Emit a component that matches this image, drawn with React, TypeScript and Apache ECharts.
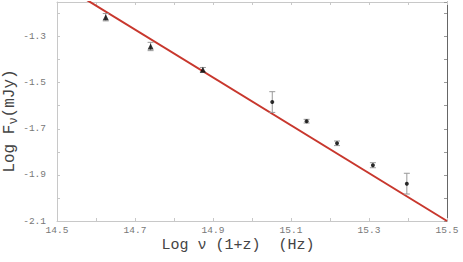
import React, { useEffect, useRef } from "react";
import * as echarts from "echarts";

const freqs = [14.625, 14.74, 14.874, 15.052, 15.14, 15.218, 15.31, 15.397];
const flux = [-1.216, -1.343, -1.444, -1.584, -1.667, -1.763, -1.858, -1.938];
const errs = [0.016, 0.018, 0.01, 0.045, 0.008, 0.01, 0.011, 0.045];
const triangleCount = 3;
const fitLine = [
  [14.5, -1.062],
  [15.5, -2.1],
];
const xTitle = "Log ν (1+z)  (Hz)";

const isOddTenth = (v: number) => {
  const t = v * 10;
  const r = Math.round(t);
  return Math.abs(t - r) < 1e-6 && Math.abs(r) % 2 === 1;
};

export default function App() {
  const ref = useRef<HTMLDivElement>(null);
  useEffect(() => {
    if (!ref.current) return;
    const chart = echarts.init(ref.current, null, { renderer: "svg" });
    const tri = freqs.slice(0, triangleCount).map((f, i) => [f, flux[i]]);
    const dots = freqs.slice(triangleCount).map((f, i) => [f, flux[i + triangleCount]]);
    const errData = freqs.map((f, i) => [f, flux[i] - errs[i], flux[i] + errs[i]]);
    const mono = "Liberation Mono";
    const axisGray = "#c8c8c8";
    chart.setOption({
      animation: false,
      grid: { left: 57, right: 16, top: 2, bottom: 41 },
      xAxis: [
        {
          type: "value",
          position: "bottom",
          min: 14.5,
          max: 15.5,
          interval: 0.1,
          axisLine: { lineStyle: { color: axisGray, width: 1 } },
          axisTick: { inside: true, length: 3, lineStyle: { color: axisGray } },
          splitLine: { show: false },
          axisLabel: {
            margin: 4,
            color: "#777",
            fontFamily: mono,
            fontSize: 9.5,
            formatter: (v: number) => (isOddTenth(v) ? v.toFixed(1) : ""),
          },
        },
        {
          type: "value",
          position: "top",
          min: 14.5,
          max: 15.5,
          interval: 0.1,
          axisLine: { lineStyle: { color: axisGray, width: 1 } },
          axisTick: { inside: true, length: 3, lineStyle: { color: axisGray } },
          splitLine: { show: false },
          axisLabel: { show: false },
        },
      ],
      yAxis: [
        {
          type: "value",
          position: "left",
          min: -2.1,
          max: -1.15,
          interval: 0.1,
          axisLine: { show: true, lineStyle: { color: axisGray, width: 1 } },
          axisTick: { show: true, inside: true, length: 3, lineStyle: { color: axisGray } },
          splitLine: { show: false },
          axisLabel: {
            margin: 11,
            color: "#777",
            fontFamily: mono,
            fontSize: 9.5,
            formatter: (v: number) => (isOddTenth(v) ? v.toFixed(1) : ""),
          },
        },
        {
          type: "value",
          position: "right",
          min: -2.1,
          max: -1.15,
          interval: 0.1,
          axisLine: { show: true, lineStyle: { color: "#666", width: 1 } },
          axisTick: { show: true, inside: true, length: 3, lineStyle: { color: "#999" } },
          splitLine: { show: false },
          axisLabel: { show: false },
        },
      ],
      graphic: [
        {
          type: "text",
          x: 238,
          y: 245,
          style: {
            text: xTitle,
            font: `15px "${mono}"`,
            fill: "#444",
            align: "center",
            verticalAlign: "middle",
          },
        },
        {
          type: "text",
          x: 10,
          y: 121,
          rotation: Math.PI / 2,
          style: {
            text: "{a|Log F}{s|ν}{a|(mJy)}",
            align: "center",
            verticalAlign: "middle",
            rich: {
              a: { font: `16px "${mono}"`, fill: "#444", lineHeight: 20, verticalAlign: "middle" },
              s: { font: `12px "${mono}"`, fill: "#444", lineHeight: 20, padding: [8, 0, 0, 0] },
            },
          },
        },
      ],
      series: [
        {
          type: "line",
          data: fitLine,
          xAxisIndex: 0,
          yAxisIndex: 0,
          showSymbol: false,
          clip: true,
          lineStyle: { color: "#c8372d", width: 2 },
          z: 2,
        },
        {
          type: "custom",
          xAxisIndex: 0,
          yAxisIndex: 0,
          data: errData,
          z: 3,
          renderItem: (params: any, api: any) => {
            const x = api.value(0);
            const lo = api.coord([x, api.value(1)]);
            const hi = api.coord([x, api.value(2)]);
            const hw = 3;
            const style = { stroke: "#999", lineWidth: 1 };
            return {
              type: "group",
              children: [
                { type: "line", shape: { x1: lo[0], y1: lo[1], x2: hi[0], y2: hi[1] }, style },
                { type: "line", shape: { x1: lo[0] - hw, y1: lo[1], x2: lo[0] + hw, y2: lo[1] }, style },
                { type: "line", shape: { x1: hi[0] - hw, y1: hi[1], x2: hi[0] + hw, y2: hi[1] }, style },
              ],
            };
          },
        },
        {
          type: "scatter",
          data: tri,
          symbol: "triangle",
          symbolSize: 6,
          itemStyle: { color: "#000" },
          z: 4,
        },
        {
          type: "scatter",
          data: dots,
          symbol: "circle",
          symbolSize: 4,
          itemStyle: { color: "#000" },
          z: 4,
        },
      ],
    });
    return () => chart.dispose();
  }, []);
  return <div ref={ref} style={{ width: 463, height: 262, position: "absolute", left: 0, top: 0 }} />;
}
